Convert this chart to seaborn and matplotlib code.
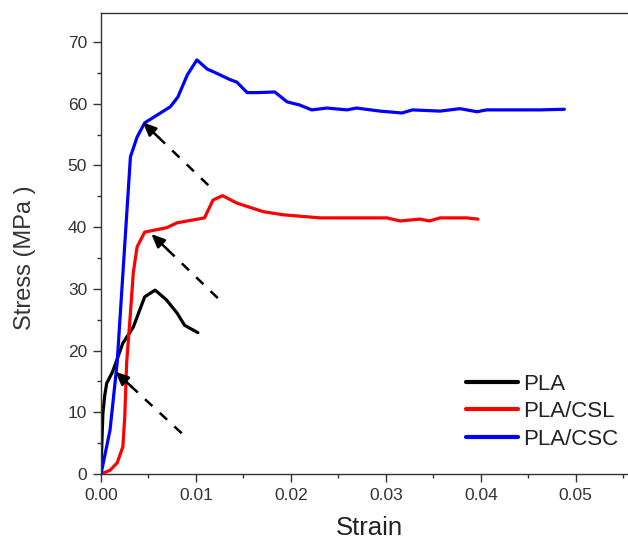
import numpy as np
import pandas as pd
import matplotlib
matplotlib.use("Agg")
import matplotlib.pyplot as plt
import seaborn as sns

# ---- data ----
pla_strain = [0, 0.0001, 0.0002, 0.0004, 0.0006, 0.0012, 0.0017, 0.0023, 0.0034,
              0.0046, 0.0057, 0.0069, 0.0080, 0.0088, 0.0102]
pla_stress = [0, 5.5, 9.9, 12.8, 14.7, 16.5, 18.6, 21.2, 23.8,
              28.7, 29.8, 28.2, 26.1, 24.1, 22.9]

csl_strain = [0, 0.00095, 0.0017, 0.0023, 0.0025, 0.0027, 0.0031, 0.0034, 0.0038,
              0.0046, 0.0069, 0.0080, 0.0109, 0.0118, 0.0128, 0.0143, 0.0171,
              0.0192, 0.0231, 0.0301, 0.0315, 0.0336, 0.0346, 0.0357, 0.0385, 0.0397]
csl_stress = [0, 0.6, 1.8, 4.4, 9.2, 18.0, 26.1, 32.6, 36.8,
              39.2, 39.9, 40.7, 41.5, 44.4, 45.1, 43.9, 42.5,
              42.0, 41.5, 41.5, 41.0, 41.3, 41.0, 41.5, 41.5, 41.3]

csc_strain = [0, 0.00095, 0.0017, 0.0026, 0.0031, 0.0038, 0.0046, 0.0073, 0.0081,
              0.0091, 0.0101, 0.0112, 0.0118, 0.0136, 0.0143, 0.0154, 0.0164,
              0.0183, 0.0196, 0.0209, 0.0222, 0.0238, 0.0259, 0.0269, 0.0294,
              0.0317, 0.0328, 0.0357, 0.0378, 0.0396, 0.0406, 0.0434, 0.0462, 0.0488]
csc_stress = [0, 7.1, 18.0, 39.5, 51.4, 54.6, 56.9, 59.5, 61.1,
              64.7, 67.1, 65.6, 65.2, 63.9, 63.5, 61.8, 61.8,
              61.9, 60.3, 59.8, 59.0, 59.3, 59.0, 59.3, 58.8,
              58.5, 59.0, 58.8, 59.2, 58.7, 59.0, 59.0, 59.0, 59.1]

series_names = ["PLA", "PLA/CSL", "PLA/CSC"]
series_colors = ["#000000", "#ff0000", "#0000ff"]

# annotation arrows: (tail_x, tail_y, head_x, head_y)
arrow_tails = [(0.0113, 46.8), (0.0123, 28.5), (0.0085, 6.6)]
arrow_heads = [(0.0044, 57.0), (0.0053, 38.9), (0.0015, 16.6)]

x_ticks = [0.00, 0.01, 0.02, 0.03, 0.04, 0.05]
y_ticks = [0, 10, 20, 30, 40, 50, 60, 70]

frames = []
for name, xs, ys in [("PLA", pla_strain, pla_stress),
                     ("PLA/CSL", csl_strain, csl_stress),
                     ("PLA/CSC", csc_strain, csc_stress)]:
    frames.append(pd.DataFrame({"Strain": xs, "Stress": ys, "Sample": name}))
df = pd.concat(frames, ignore_index=True)

sns.set_style("ticks")
plt.rcParams["font.family"] = ["Liberation Sans", "DejaVu Sans"]

fig = plt.figure(figsize=(6.28, 5.44), dpi=100)
ax = fig.add_axes([101/628, 1 - 474/544, 1 - 101/628, (474 - 13)/544])

sns.lineplot(data=df, x="Strain", y="Stress", hue="Sample", hue_order=series_names,
             palette=series_colors, sort=False, estimator=None, units="Sample",
             linewidth=2.3, ax=ax, legend=True)

# dashed arrows
for (tx, ty), (hx, hy) in zip(arrow_tails, arrow_heads):
    ax.plot([tx, hx + (tx - hx) * 0.15], [ty, hy + (ty - hy) * 0.15],
            color="black", linestyle=(0, (4, 4)), linewidth=1.8, zorder=5)
    ax.annotate("", xy=(hx, hy), xytext=(hx + (tx - hx) * 0.25, hy + (ty - hy) * 0.25),
                arrowprops=dict(arrowstyle="-|>,head_length=0.8,head_width=0.35",
                                color="black", lw=1.8, shrinkA=0, shrinkB=0),
                zorder=6)

ax.set_xlim(0, 0.0555)
ax.set_ylim(0, 74.7)
ax.set_xticks(x_ticks)
ax.set_xticklabels([f"{v:.2f}" for v in x_ticks])
ax.set_yticks(y_ticks)
ax.set_yticklabels([str(v) for v in y_ticks])
ax.set_xticks(np.arange(0.005, 0.0555, 0.01), minor=True)
ax.set_yticks(np.arange(5, 75, 10), minor=True)

ax.tick_params(axis="both", which="major", direction="out", length=6, width=1,
               labelsize=12.5, colors="#333333", labelcolor="#333333", pad=4)
ax.tick_params(axis="both", which="minor", direction="out", length=3, width=1,
               colors="#333333")

for s in ["left", "bottom", "top"]:
    ax.spines[s].set_color("#333333")
    ax.spines[s].set_linewidth(1.0)
ax.spines["right"].set_visible(False)

ax.set_xlabel("Strain", fontsize=18.5, color="#222222")
ax.xaxis.set_label_coords((369 - 101) / 527, (474 - 528) / 461)
ax.xaxis.label.set_va("center")
ax.set_ylabel("Stress (MPa )", fontsize=17, color="#333333")
ax.yaxis.set_label_coords((25 - 101) / 527, (474 - 258) / 461)
ax.yaxis.label.set_va("center")

leg = ax.legend(loc="lower right", bbox_to_anchor=(0.998, 0.033), borderaxespad=0,
                frameon=False, fontsize=16, handlelength=2.35, handletextpad=0.2,
                labelspacing=0.3)
for line in leg.get_lines():
    line.set_linewidth(3.0)
for t in leg.get_texts():
    t.set_color("#222222")

fig.savefig("out.png", dpi=100)
